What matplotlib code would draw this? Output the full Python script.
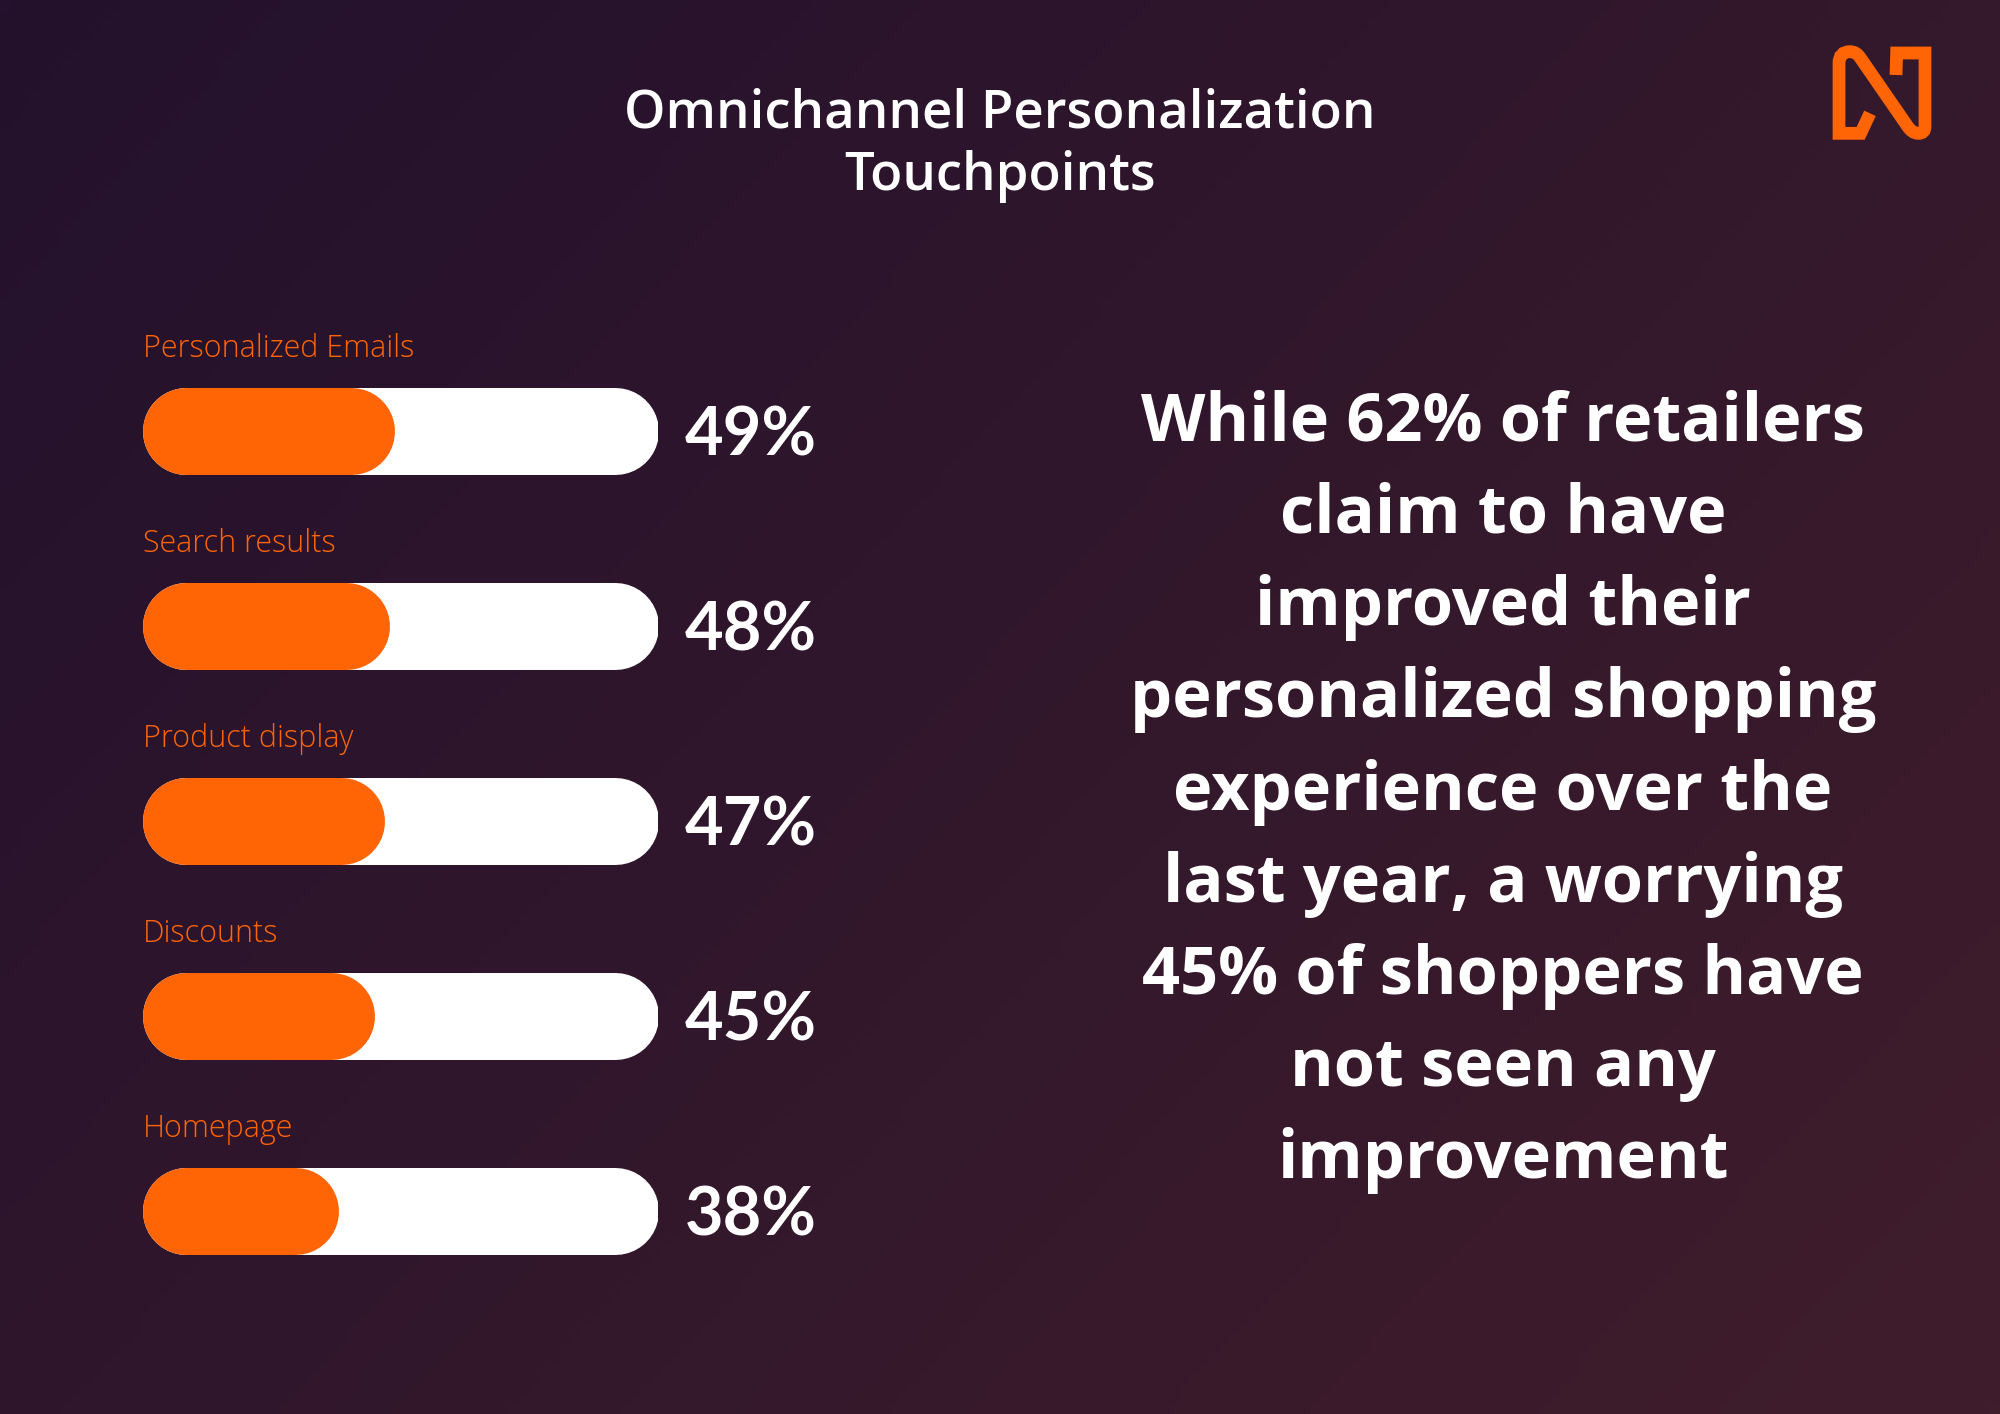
import numpy as np
import matplotlib
matplotlib.use('Agg')
import matplotlib.pyplot as plt
from matplotlib.path import Path
from matplotlib.patches import PathPatch

# datos
categorias = ['Personalized Emails', 'Search results', 'Product display', 'Discounts', 'Homepage']
valores = [49, 48, 47, 45, 38]
titulo = 'Omnichannel Personalization\nTouchpoints'
parrafo = ('While 62% of retailers\nclaim to have\nimproved their\npersonalized shopping\n'
           'experience over the\nlast year, a worrying\n45% of shoppers have\nnot seen any\nimprovement')

W, H = 2000, 1414
naranja = '#ff6405'

fig = plt.figure(figsize=(10, 7.07), dpi=200)

# fondo degradado
fondo = fig.add_axes([0, 0, 1, 1])
fondo.set_axis_off()
c1 = np.array([35, 17, 45]) / 255
c2 = np.array([64, 29, 43]) / 255
gx, gy = np.meshgrid(np.linspace(0, 1, 200), np.linspace(0, 1, 142))
t = (gx * 0.6 + gy * 0.4)[..., None]
fondo.imshow(c1 * (1 - t) + c2 * t, extent=[0, W, H, 0], aspect='auto')
fondo.set_xlim(0, W)
fondo.set_ylim(H, 0)

# titulo
fondo.text(1000, 145, titulo, ha='center', va='center', color='white',
           fontsize=19, fontfamily='Open Sans', fontweight='semibold', linespacing=1.25)

# parrafo derecho
fondo.text(1503, 792, parrafo, ha='center', va='center', color='white',
           fontsize=24, fontfamily='Open Sans', fontweight='bold', linespacing=1.495)

# logo
z = lambda x, y: (1800 + x / 3, 20 + y / 3)
verts = [z(210, 280), z(182, 340), z(117, 340), z(117, 130),
         z(117, 95), z(150, 95),
         z(170, 95), z(182, 115),
         z(320, 315),
         z(335, 340), z(355, 340),
         z(375, 340), z(375, 320),
         z(375, 99), z(290, 99), z(288, 165)]
codes = [Path.MOVETO, Path.LINETO, Path.LINETO, Path.LINETO,
         Path.CURVE3, Path.CURVE3,
         Path.CURVE3, Path.CURVE3,
         Path.LINETO,
         Path.CURVE3, Path.CURVE3,
         Path.CURVE3, Path.CURVE3,
         Path.LINETO, Path.LINETO, Path.LINETO]
fondo.add_patch(PathPatch(Path(verts, codes), fill=False, edgecolor=naranja,
                          lw=4.6, joinstyle='miter', capstyle='butt'))

# barras
x0, ancho = 142, 516
paso, y_primera = 195, 431
ax = fig.add_axes([x0 / W, 0, ancho / W, 1])
ax.set_axis_off()
ax.set_xlim(0, 100)
ax.set_ylim((H - y_primera) / paso, -y_primera / paso)

alto_px = 87
lw = alto_px * 72 / 200
cap = (alto_px / 2) / (ancho / 100)

for i, (cat, v) in enumerate(zip(categorias, valores)):
    ax.plot([cap, 100 - cap], [i, i], color='white', lw=lw, solid_capstyle='round')
    ax.plot([cap, v - cap], [i, i], color=naranja, lw=lw, solid_capstyle='round')
    ax.text(0.2, i - 0.42, cat, ha='left', va='center', color=naranja,
            fontsize=11, fontfamily='Open Sans', fontweight='light')
    ax.text(105.2, i + 0.03, '%d%%' % v, ha='left', va='center', color='white',
            fontsize=24, fontfamily='Lato', fontweight='bold', clip_on=False)

plt.savefig('out.png', dpi=200)
